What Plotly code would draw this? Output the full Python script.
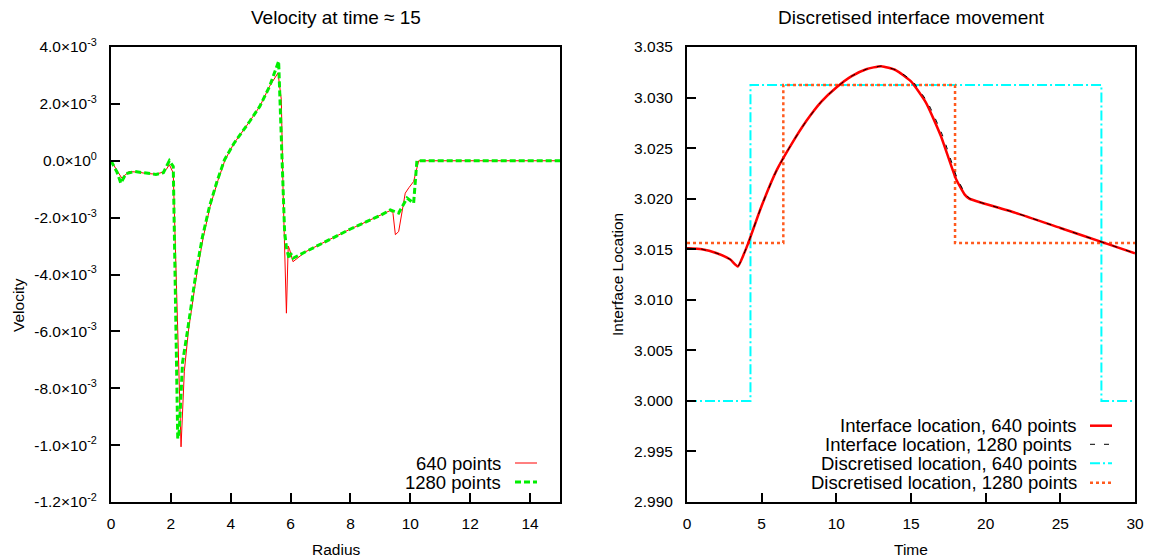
import plotly.graph_objects as go

W, H = 1151, 559
FONT = "Liberation Sans"

# ---------------- Left panel data: velocity vs radius (values in units of 1e-3) ----------------
radius_640 = [0, 0.15, 0.36, 0.6, 0.9, 1.2, 1.5, 1.71, 1.85, 1.95, 2.08, 2.34, 2.45, 2.59,
              2.87, 3.08, 3.31, 3.57, 3.81, 4.1, 4.4, 4.63, 4.97, 5.3, 5.58,
              5.69, 5.75, 5.86, 5.92, 5.97, 6.08, 6.5, 7.0, 7.5, 8.0, 8.5, 9.0, 9.33,
              9.42, 9.5, 9.61, 9.7, 9.83, 9.95, 10.11, 10.28, 11, 12, 13, 14, 15]
velocity_640 = [0, -0.25, -0.61, -0.38, -0.40, -0.45, -0.47, -0.41, -0.30, -0.14, -0.43,
                -10.06, -7.4, -5.95, -3.94, -2.7, -1.61, -0.7, 0.03, 0.6, 1.03, 1.38,
                1.91, 2.62, 3.09, 2.15, -1.14, -5.36, -3.0, -3.13, -3.55, -3.2, -2.93,
                -2.66, -2.4, -2.16, -1.92, -1.75, -1.85, -2.6, -2.49, -1.9, -1.14,
                -0.95, -0.73, 0, 0, 0, 0, 0, 0]

radius_1280 = [0, 0.2, 0.33, 0.5, 0.8, 1.2, 1.5, 1.75, 1.95, 2.08, 2.12, 2.2, 2.23, 2.28,
               2.39, 2.56, 2.84, 3.05, 3.29, 3.55, 3.79, 4.1, 4.4, 4.63, 4.97, 5.3, 5.6,
               5.66, 5.72, 5.8, 5.86, 5.95, 6.0, 6.08, 6.5, 7.0, 7.5, 8.0, 8.5, 9.0,
               9.33, 9.61, 9.89, 10.11, 10.22, 11, 12, 13, 14, 15]
velocity_1280 = [0, -0.4, -0.79, -0.45, -0.38, -0.43, -0.48, -0.42, 0.0, -0.2, -3.0, -8.0,
                 -9.77, -9.5, -7.1, -5.95, -3.94, -2.7, -1.61, -0.7, 0.03, 0.6, 1.03,
                 1.38, 1.91, 2.62, 3.5, 1.5, -0.5, -2.5, -3.05, -3.45, -3.25, -3.43,
                 -3.2, -2.93, -2.66, -2.4, -2.16, -1.92, -1.73, -1.84, -1.31, -1.49, 0,
                 0, 0, 0, 0, 0]

vel_ticks = [4, 2, 0, -2, -4, -6, -8, -10, -12]
vel_ticktext = ["4.0×10<sup>-3</sup>", "2.0×10<sup>-3</sup>", "0.0×10<sup>0</sup>",
                "-2.0×10<sup>-3</sup>", "-4.0×10<sup>-3</sup>", "-6.0×10<sup>-3</sup>",
                "-8.0×10<sup>-3</sup>", "-1.0×10<sup>-2</sup>", "-1.2×10<sup>-2</sup>"]

# ---------------- Right panel data: interface location vs time ----------------
time_640 = [0, 1.0, 2.0, 2.88, 3.4, 3.8, 4.1, 5.0, 6.0, 7.0, 8.0, 9.0, 10.0, 11.0,
            12.0, 13.0, 14.0, 15.0, 16.0, 17.0, 18.0, 18.6, 18.9, 19.5, 22.0, 25.0,
            28.0, 30.0]
loc_640 = [3.0151, 3.0150, 3.0146, 3.0140, 3.0133, 3.0145, 3.0156, 3.0193, 3.0228,
           3.0254, 3.0277, 3.0296, 3.0310, 3.0321, 3.0328, 3.0331, 3.0327, 3.0316,
           3.0295, 3.0262, 3.0220, 3.0204, 3.0200, 3.0197, 3.0186, 3.0171, 3.0156,
           3.0146]

time_1280 = [0, 1.0, 2.0, 2.88, 3.4, 3.8, 4.1, 5.0, 6.0, 7.0, 8.0, 9.0, 10.0, 11.0,
             12.0, 13.0, 14.05, 15.1, 16.12, 17.13, 18.1, 18.68, 18.95, 19.5, 22.0,
             25.0, 28.0, 30.0]
loc_1280 = [3.0151, 3.0150, 3.0146, 3.0140, 3.0133, 3.0145, 3.0156, 3.0193, 3.0228,
            3.0254, 3.0277, 3.0296, 3.0310, 3.0321, 3.0328, 3.0331, 3.0327, 3.0316,
            3.0295, 3.0262, 3.0220, 3.0204, 3.0200, 3.0197, 3.0186, 3.0171, 3.0156,
            3.0146]

disc_time_640 = [0, 4.25, 27.75, 30]
disc_loc_640 = [3.0, 3.03125, 3.0, 3.0]
disc_time_1280 = [0, 6.45, 17.95, 30]
disc_loc_1280 = [3.015625, 3.03125, 3.015625, 3.015625]

legend_left = ["640 points", "1280 points"]
legend_right = ["Interface location, 640 points", "Interface location, 1280 points",
                "Discretised location, 640 points", "Discretised location, 1280 points"]

# ---------------- styles ----------------
RED, GREEN, CYAN, ORANGE = "#ff0000", "#00ee00", "#00ffff", "#ff5a1e"
s_red_thin = dict(color=RED, width=1)
s_green = dict(color=GREEN, width=3, dash="6px,3px")
s_red_thick = dict(color=RED, width=2.5)
s_black = dict(color="#000000", width=1, dash="5px,9px")
s_cyan = dict(color=CYAN, width=2, dash="10px,3px,2px,3px")
s_orange = dict(color=ORANGE, width=2.5, dash="3px,3px")

fig = go.Figure()
fig.add_trace(go.Scatter(x=radius_640, y=[v * 1e-3 for v in velocity_640], mode="lines",
                         line=s_red_thin, name=legend_left[0], xaxis="x", yaxis="y"))
fig.add_trace(go.Scatter(x=radius_1280, y=[v * 1e-3 for v in velocity_1280], mode="lines",
                         line=s_green, name=legend_left[1], xaxis="x", yaxis="y"))

fig.add_trace(go.Scatter(x=disc_time_640, y=disc_loc_640, mode="lines", line_shape="hv",
                         line=s_cyan, name=legend_right[2], xaxis="x2", yaxis="y2"))
fig.add_trace(go.Scatter(x=disc_time_1280, y=disc_loc_1280, mode="lines", line_shape="hv",
                         line=s_orange, name=legend_right[3], xaxis="x2", yaxis="y2"))
fig.add_trace(go.Scatter(x=time_640, y=loc_640, mode="lines", line_shape="spline",
                         line=dict(s_red_thick, smoothing=0.5), name=legend_right[0],
                         xaxis="x2", yaxis="y2"))
fig.add_trace(go.Scatter(x=time_1280, y=loc_1280, mode="lines", line_shape="spline",
                         line=dict(s_black, smoothing=0.5), name=legend_right[1],
                         xaxis="x2", yaxis="y2"))


def px(x):
    return x / W


def py(y):
    return 1 - y / H


tickfont = dict(family=FONT, size=15.5, color="#000000")
axis_common = dict(showline=True, linecolor="#000000", linewidth=2, mirror=True,
                   ticks="inside", ticklen=9, tickwidth=1.5, tickcolor="#000000",
                   showgrid=False, zeroline=False, tickfont=tickfont, automargin=False)

fig.update_layout(
    width=W, height=H,
    margin=dict(l=0, r=0, t=0, b=0, autoexpand=False),
    paper_bgcolor="white", plot_bgcolor="white",
    showlegend=False,
    font=dict(family=FONT, color="#000000"),
    xaxis=dict(domain=[px(111), px(560)], range=[0, 15], tickvals=list(range(0, 15, 2)),
               anchor="y", ticklabelstandoff=6, **axis_common),
    yaxis=dict(domain=[py(502), py(47)], range=[-0.012, 0.004],
               tickvals=[v * 1e-3 for v in vel_ticks], ticktext=vel_ticktext,
               anchor="x", ticklabelstandoff=9, **axis_common),
    xaxis2=dict(domain=[px(687), px(1135)], range=[0, 30], tickvals=list(range(0, 31, 5)),
                anchor="y2", ticklabelstandoff=6, **axis_common),
    yaxis2=dict(domain=[py(502), py(47)], range=[2.99, 3.035], dtick=0.005,
                tickformat=".3f", anchor="x2", ticklabelstandoff=9, **axis_common),
)

annotations = [
    dict(text="Velocity at time ≈ 15", x=px(335.5), y=py(18)),
    dict(text="Discretised interface movement", x=px(911), y=py(18)),
]
for a in annotations:
    a.update(xref="paper", yref="paper", xanchor="center", yanchor="middle",
             showarrow=False, font=dict(family=FONT, size=19, color="#000000"))

axis_titles = [
    dict(text="Radius", x=px(335.5), y=py(549), textangle=0),
    dict(text="Time", x=px(911), y=py(549), textangle=0),
    dict(text="Velocity", x=px(18), y=py(305), textangle=-90),
    dict(text="Interface Location", x=px(617), y=py(275), textangle=-90),
]
for a in axis_titles:
    a.update(xref="paper", yref="paper", xanchor="center", yanchor="middle",
             showarrow=False, font=dict(family=FONT, size=15.5, color="#000000"))

shapes = []
legend_ann = []
# left legend (text right-aligned, sample to the right)
left_rows = [(463, s_red_thin), (482, s_green)]
for label, (ry, style) in zip(legend_left, left_rows):
    legend_ann.append(dict(text=label, x=px(502), y=py(ry), xanchor="right",
                           yanchor="middle"))
    shapes.append(dict(type="line", xref="paper", yref="paper", x0=px(515), x1=px(537),
                       y0=py(ry), y1=py(ry), line=style))
# right legend
right_rows = [(425.7, 1078, s_red_thick), (444.3, 1073, s_black),
              (463.3, 1078, s_cyan), (482.7, 1078, s_orange)]
for label, (ry, rx, style) in zip(legend_right, right_rows):
    legend_ann.append(dict(text=label, x=px(rx), y=py(ry), xanchor="right",
                           yanchor="middle"))
    shapes.append(dict(type="line", xref="paper", yref="paper", x0=px(1090), x1=px(1112),
                       y0=py(ry), y1=py(ry), line=style))
for a in legend_ann:
    a.update(xref="paper", yref="paper", showarrow=False, borderpad=0,
             font=dict(family=FONT, size=18.5, color="#000000"))

fig.update_layout(annotations=annotations + axis_titles + legend_ann, shapes=shapes)

fig.write_html("out.html",
               post_script="document.body.style.margin='0';"
                           "document.body.style.overflow='hidden';")
